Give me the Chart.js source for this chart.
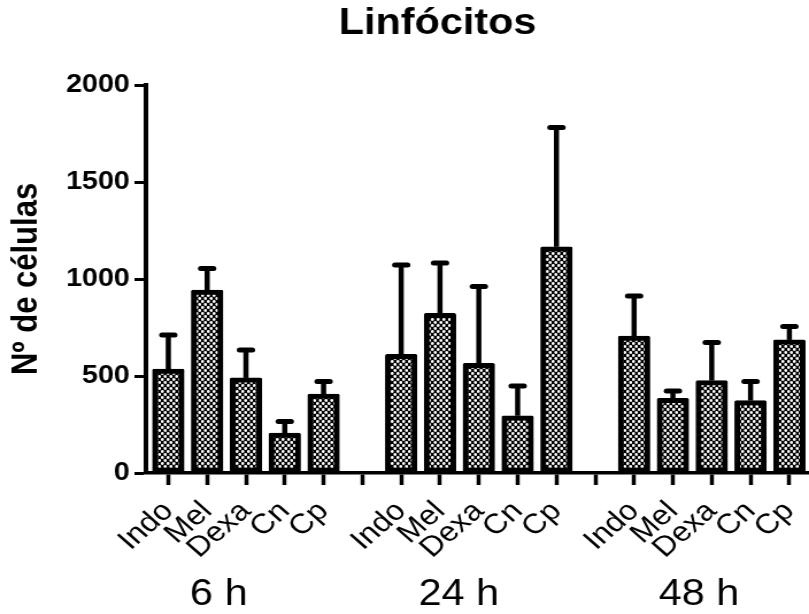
<!DOCTYPE html>
<html>
<head>
<meta charset="utf-8">
<script src="https://cdn.jsdelivr.net/npm/chart.js@4.4.1/dist/chart.umd.min.js"></script>
<style>
  html, body { margin: 0; padding: 0; background: #ffffff; }
</style>
</head>
<body>
<canvas id="c" width="704" height="614" style="display:block;width:809px;height:614px"></canvas>
<script>
// ---- data ----
const treatments = ['Indo', 'Mel', 'Dexa', 'Cn', 'Cp'];
const groups = ['6 h', '24 h', '48 h'];
const mean6h  = [536, 943, 490, 206, 407];
const mean24h = [612, 823, 565, 295, 1166];
const mean48h = [706, 385, 476, 373, 686];
const sem6h   = [175, 111, 144, 59, 65];
const sem24h  = [460, 259, 396, 153, 615];
const sem48h  = [206, 38, 197, 99, 69];
const yTicks  = [0, 500, 1000, 1500, 2000];
const chartTitle = 'Linfócitos';
const yTitle = 'Nº de células';

// ---- build flat category table (one empty slot between groups) ----
const groupMeans = [mean6h, mean24h, mean48h];
const groupSems = [sem6h, sem24h, sem48h];
const tickLabels = [];
const barPoints = [];
const barErrs = [];
const groupCenters = [];
groups.forEach((g, gi) => {
  const idxs = [];
  treatments.forEach((t, ti) => {
    const i = tickLabels.length;
    tickLabels.push(t);
    barPoints.push({ x: i, y: groupMeans[gi][ti] });
    barErrs.push(groupSems[gi][ti]);
    idxs.push(i);
  });
  groupCenters.push(idxs.reduce((a, b) => a + b, 0) / idxs.length);
  if (gi < groups.length - 1) tickLabels.push('');
});

const FONT = "'Liberation Sans', Arial, Helvetica, sans-serif";
const canvas = document.getElementById('c');
const ctx = canvas.getContext('2d');

function makePattern(context) {
  const c = document.createElement('canvas');
  c.width = 5; c.height = 6;
  const g = c.getContext('2d');
  g.fillStyle = '#000';
  g.fillRect(0, 0, 5, 6);
  g.fillStyle = '#fff';
  [[1.25, 1.5], [3.75, 4.5]].forEach(([x, y]) => {
    g.beginPath(); g.arc(x, y, 1.4, 0, Math.PI * 2); g.fill();
  });
  return context.createPattern(c, 'repeat');
}

const errorBars = {
  id: 'errorBars',
  afterDatasetsDraw(chart) {
    const c = chart.ctx;
    const yScale = chart.scales.y;
    const meta = chart.getDatasetMeta(0);
    c.save();
    c.strokeStyle = '#000';
    meta.data.forEach((bar, i) => {
      const p = barPoints[i];
      const top = yScale.getPixelForValue(p.y);
      const hi = yScale.getPixelForValue(p.y + barErrs[i]);
      c.lineCap = 'butt';
      c.lineWidth = 4.5;
      c.beginPath(); c.moveTo(bar.x, top); c.lineTo(bar.x, hi); c.stroke();
      c.lineCap = 'round';
      c.lineWidth = 5;
      c.beginPath(); c.moveTo(bar.x - 5.5, hi); c.lineTo(bar.x + 5.5, hi); c.stroke();
    });
    c.restore();
  }
};

new Chart(ctx, {
  type: 'bar',
  data: {
    datasets: [{
      data: barPoints,
      backgroundColor: makePattern(ctx),
      borderColor: '#000',
      borderWidth: 5,
      borderSkipped: false,
      borderRadius: 1.5,
      barThickness: 27.5
    }]
  },
  options: {
    responsive: false,
    devicePixelRatio: 1,
    animation: false,
    layout: { padding: { left: 57.4, right: 0, top: 0, bottom: 0 } },
    plugins: {
      legend: { display: false },
      tooltip: { enabled: false },
      title: {
        display: true,
        text: chartTitle,
        color: '#000',
        font: { family: FONT, size: 36, weight: 'bold' },
        padding: { top: 2.6, bottom: 39.2 }
      }
    },
    scales: {
      x: {
        type: 'linear',
        position: 'bottom',
        weight: 0,
        offset: false,
        min: -0.576,
        max: 16.506,
        afterBuildTicks: s => { s.ticks = tickLabels.map((_, i) => ({ value: i })); },
        afterFit: s => { s.height = 87; s.paddingLeft = 0; s.paddingRight = 0; },
        ticks: {
          autoSkip: false,
          minRotation: 45,
          maxRotation: 45,
          padding: 10,
          color: '#000',
          font: { family: FONT, size: 28 },
          callback: v => tickLabels[v] ?? ''
        },
        grid: { display: true, offset: false, drawOnChartArea: false, drawTicks: true, tickLength: 12, tickWidth: 3.5, tickColor: '#000' },
        border: { display: true, color: '#000', width: 3.5 }
      },
      x2: {
        type: 'linear',
        position: 'bottom',
        weight: 1,
        offset: false,
        min: 0.18,
        max: 16.75,
        afterBuildTicks: s => { s.ticks = groupCenters.map(v => ({ value: v })); },
        afterFit: s => { s.height = 54; s.paddingLeft = 0; s.paddingRight = 0; },
        ticks: {
          autoSkip: false,
          minRotation: 0,
          maxRotation: 0,
          padding: 13.9,
          color: '#000',
          font: { family: FONT, size: 36 },
          callback: v => groups[groupCenters.indexOf(v)] ?? ''
        },
        grid: { display: false, offset: false, drawTicks: false },
        border: { display: false }
      },
      y: {
        min: 0,
        max: 2000,
        afterBuildTicks: s => { s.ticks = yTicks.map(v => ({ value: v })); },
        afterFit: s => { s.width = 69.6; },
        ticks: {
          padding: 4,
          color: '#000',
          font: { family: FONT, size: 25, weight: 'bold' },
          callback: v => String(v)
        },
        grid: { display: true, drawOnChartArea: false, drawTicks: true, tickLength: 10, tickWidth: 3, tickColor: '#000' },
        border: { display: true, color: '#000', width: 4 },
        title: {
          display: true,
          text: yTitle,
          color: '#000',
          font: { family: FONT, size: 31, weight: 'bold' },
          padding: { top: -52.1, bottom: 0 }
        }
      }
    }
  },
  plugins: [errorBars]
});
</script>
</body>
</html>
